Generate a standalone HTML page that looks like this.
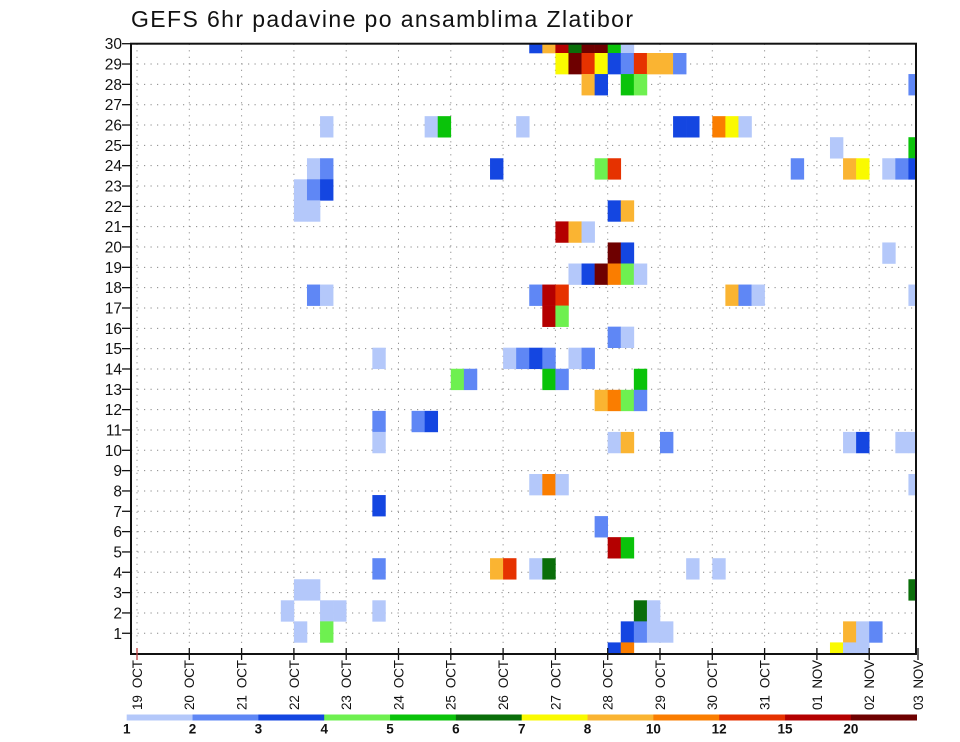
<!DOCTYPE html>
<html><head><meta charset="utf-8"><style>
html,body{margin:0;padding:0;background:#fff;}
svg{display:block;font-family:"Liberation Sans",sans-serif;}
text{white-space:pre;}
</style></head><body>
<svg id="chart" width="960" height="742" viewBox="0 0 960 742" xmlns="http://www.w3.org/2000/svg">
<text x="131" y="27" font-size="23" textLength="502" lengthAdjust="spacing" fill="#111">GEFS 6hr padavine po ansamblima Zlatibor</text>
<defs><clipPath id="plotclip"><rect x="131" y="43.7" width="785" height="610.3"/></clipPath></defs>
<g id="grid"></g>
<g id="cells" clip-path="url(#plotclip)"></g>
<rect x="131" y="43.7" width="785" height="610.3" fill="none" stroke="#111" stroke-width="2"/>
<g id="yaxis"></g>
<g id="xaxis"></g>
<g id="cbar"></g>
</svg>
<script>
// ---- data ----
const dayLabels = ["19  OCT","20  OCT","21  OCT","22  OCT","23  OCT","24  OCT","25  OCT","26  OCT","27  OCT","28  OCT","29  OCT","30  OCT","31  OCT","01  NOV","02  NOV","03  NOV"];
const memberLabels = [1,2,3,4,5,6,7,8,9,10,11,12,13,14,15,16,17,18,19,20,21,22,23,24,25,26,27,28,29,30];
const levelBounds = [1,2,3,4,5,6,7,8,10,12,15,20];
const levelColors = ["#b4c8fa","#5f87f5","#1446e1","#6ef050","#0ac30a","#0a6e0a","#fafa00","#fab432","#fa7d00","#e63200","#b40000","#6e0000"];
// each cell: ensemble member, 6-hour step index (0 = 19 OCT 00z), precipitation (mm)
const cellMember = [
30,30,30,30,30,30,30,30,
29,29,29,29,29,29,29,29,29,29,
28,28,28,28,28,
26,26,26,26,26,26,26,26,26,
25,25,
24,24,24,24,24,24,24,24,24,24,24,
23,23,23,
22,22,22,22,
21,21,21,
20,20,20,
19,19,19,19,19,19,
18,18,18,18,18,18,18,18,18,
17,17,
16,16,
15,15,15,15,15,15,15,
14,14,14,14,14,
13,13,13,13,
12,12,12,
11,11,11,11,11,11,11,11,
9,9,9,9,
8,
7,
6,6,
5,5,5,5,5,5,5,
4,4,4,
3,3,3,3,3,3,
2,2,2,2,2,2,2,2,2,
1,1,1,1,1];
const cellStep = [
30,31,32,33,34,35,36,37,
32,33,34,35,36,37,38,39,40,41,
34,35,37,38,59,
14,22,23,29,41,42,44,45,46,
53,59,
13,14,27,35,36,50,54,55,57,58,59,
12,13,14,
12,13,36,37,
32,33,34,
36,37,57,
33,34,35,36,37,38,
13,14,30,31,32,45,46,47,59,
31,32,
36,37,
18,28,29,30,31,33,34,
24,25,31,32,38,
35,36,37,38,
18,21,22,
18,36,37,40,54,55,58,59,
30,31,32,59,
18,
35,
36,37,
18,27,28,30,31,42,44,
12,13,59,
11,14,15,18,38,39,
12,14,37,38,39,40,54,55,56,
36,37,53,54,55];
const cellValue = [
3.5,9,17,6.5,25,25,5.5,1.5,
7.5,25,13.5,7.5,3.5,2.5,13.5,9,9,2.5,
9,3.5,5.5,4.5,2.5,
1.5,1.5,5.5,1.5,3.5,3.5,11,7.5,1.5,
1.5,5.5,
1.5,2.5,3.5,4.5,13.5,2.5,9,7.5,1.5,2.5,3.5,
1.5,2.5,3.5,
1.5,1.5,3.5,9,
17,9,1.5,
25,3.5,1.5,
1.5,3.5,25,11,4.5,1.5,
2.5,1.5,2.5,17,13.5,9,2.5,1.5,1.5,
17,4.5,
2.5,1.5,
1.5,1.5,2.5,3.5,2.5,1.5,2.5,
4.5,2.5,5.5,2.5,5.5,
9,11,4.5,2.5,
2.5,2.5,3.5,
1.5,1.5,9,2.5,1.5,3.5,1.5,1.5,
1.5,11,1.5,1.5,
3.5,
2.5,
17,5.5,
2.5,9,13.5,1.5,6.5,1.5,1.5,
1.5,1.5,6.5,
1.5,1.5,1.5,1.5,6.5,1.5,
1.5,4.5,3.5,2.5,1.5,1.5,9,1.5,2.5,
3.5,11,7.5,1.5,1.5];

// ---- geometry ----
const NS="http://www.w3.org/2000/svg";
const PL=131, PR=916, PT=43.7, PB=654;
const X0=137, DAY=52.3, STEP=DAY/4;
const CELL_H=21.05, CELL_TOP1=53;
function xDay(d){return X0+d*DAY;}
function xStep(s){return X0+s*STEP;}
function yCellTop(m){return CELL_TOP1+CELL_H*(29-m);}
function yLabel(r){return PT+(30-r)*20.33;}
function colorFor(v){let k=0;for(let j=0;j<levelBounds.length;j++){if(v>=levelBounds[j])k=j;}return levelColors[k];}
function mk(tag,attrs,parent){const e=document.createElementNS(NS,tag);for(const k in attrs)e.setAttribute(k,attrs[k]);parent.appendChild(e);return e;}

// grid
const grid=document.getElementById('grid');
dayLabels.forEach((lab,d)=>{const x=Math.min(xDay(d),PR);
  if(x>PL+2&&x<PR-1){const l=mk('line',{x1:x,y1:PT,x2:x,y2:PB,stroke:'#888','stroke-width':1,'stroke-dasharray':'1.2 5.3'},grid);
  
  }
});
memberLabels.forEach(r=>{const y=yLabel(r);
  if(r<30){const l=mk('line',{x1:PL,y1:y,x2:PR,y2:y,stroke:'#888','stroke-width':1,'stroke-dasharray':'1.2 5.3'},grid);
  
  }
});

// cells
const cg=document.getElementById('cells');
for(let k=0;k<cellMember.length;k++){
  const r=mk('rect',{x:xStep(cellStep[k]),y:yCellTop(cellMember[k]),width:STEP+0.3,height:CELL_H+0.3,fill:colorFor(cellValue[k])},cg);
  
  
}

// y axis
const ya=document.getElementById('yaxis');
memberLabels.forEach(r=>{const y=yLabel(r);
  const t=mk('line',{x1:PL-9,y1:y,x2:PL,y2:y,stroke:'#111','stroke-width':1.3},ya);
  
  
  const tx=mk('text',{x:PL-9,y:y+5.5,'font-size':15.5,'text-anchor':'end',fill:'#111'},ya);
  tx.textContent=r;
  
  
});

// x axis
const xa=document.getElementById('xaxis');
dayLabels.forEach((lab,d)=>{const x=Math.min(xDay(d),PR+2);
  const t=mk('line',{x1:x,y1:PB-6,x2:x,y2:PB+6,stroke:d===0?'#c04040':'#111','stroke-width':1.3},xa);
  
  
  const tx=mk('text',{x:x,y:660,'font-size':13.5,'text-anchor':'end',dy:'0.36em',textLength:50,lengthAdjust:'spacing',transform:'rotate(-90 '+x+' 660)',fill:'#111'},xa);
  tx.textContent=lab;
  
  
});

// colorbar
const cb=document.getElementById('cbar');
const CB0=126.7, CB1=916.7, CBW=(CB1-CB0)/levelColors.length;
levelColors.forEach((c,j)=>{
  const r=mk('rect',{x:CB0+j*CBW,y:714.5,width:CBW+0.3,height:6,fill:c},cb);
  
  
});
levelBounds.forEach((v,j)=>{
  const t=mk('text',{x:CB0+j*CBW,y:733.5,'font-size':13.5,'font-weight':'bold','text-anchor':'middle',fill:'#111'},cb);
  t.textContent=v;
  
  
});
</script>
</body></html>
